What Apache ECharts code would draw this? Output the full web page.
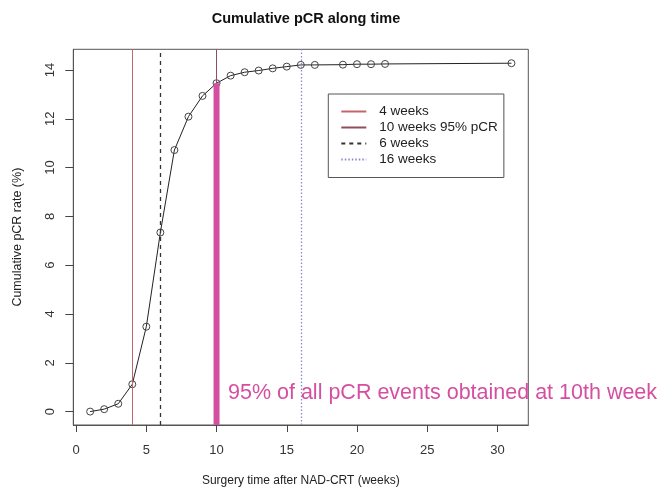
<!DOCTYPE html>
<html>
<head>
<meta charset="utf-8">
<script src="https://cdn.jsdelivr.net/npm/echarts@6/dist/echarts.min.js"></script>
<style>html,body{margin:0;padding:0;background:#fff;}#c{width:663px;height:490px;}</style>
</head>
<body>
<div id="c"></div>
<script>
// Data
const weeks = [1,2,3,4,5,6,7,8,9,10,11,12,13,14,15,16,17,19,20,21,22,31];
const cumPCR = [0,0.1,0.32,1.12,3.48,7.34,10.72,12.09,12.94,13.46,13.77,13.91,13.98,14.07,14.14,14.21,14.21,14.22,14.24,14.24,14.25,14.28];
const xTicks = [0,5,10,15,20,25,30];
const yTicks = [0,2,4,6,8,10,12,14];
const refLines = [
  {name:'4 weeks', week:4},
  {name:'10 weeks 95% pCR', week:10},
  {name:'6 weeks', week:6},
  {name:'16 weeks', week:16}
];
const pcr95Week = 10;
const pcr95Value = 13.46;
const annotation = '95% of all pCR events obtained at 10th week';
const titleText = 'Cumulative pCR along time';
const xName = 'Surgery time after NAD-CRT (weeks)';
const yName = 'Cumulative pCR rate (%)';

// R-style axis extension (4%)
const xMin = -0.2, xMax = 32.2;
const yMin = -0.55, yMax = 14.85;

const refStyles = {
  '4 weeks': {color:'#c4646e', type:'solid', width:1},
  '10 weeks 95% pCR': {color:'#8f4d5e', type:'solid', width:1},
  '6 weeks': {color:'#333333', type:[4,4], width:1.3},
  '16 weeks': {color:'#8a8ac8', type:[1.5,2], width:1.3}
};

const font = '"Liberation Sans", Arial, sans-serif';
const chart = echarts.init(document.getElementById('c'), null, {renderer:'canvas'});

const series = [];
refLines.forEach(r => {
  const st = refStyles[r.name];
  series.push({
    name: r.name,
    type: 'line',
    data: [],
    symbol: 'none',
    lineStyle: {color: st.color, type: st.type, width: st.width},
    itemStyle: {color: st.color},
    z: 2,
    markLine: {
      silent: true,
      symbol: 'none',
      label: {show: false},
      lineStyle: {color: st.color, type: st.type, width: st.width},
      data: [{xAxis: r.week}],
      animation: false
    }
  });
});
series.push({
  name: 'curve',
  type: 'line',
  data: weeks.map((w,i)=>[w, cumPCR[i]]),
  symbol: 'circle',
  symbolSize: 7,
  showSymbol: true,
  lineStyle: {color:'#222', width:1},
  itemStyle: {color:'rgba(0,0,0,0)', borderWidth:1, borderColor:'#444'},
  z: 3
});
series.push({
  name: 'pcr95',
  type: 'line',
  data: [[pcr95Week, yMin],[pcr95Week, pcr95Value]],
  symbol: 'none',
  lineStyle: {color:'#d54fa1', width:6, cap:'butt'},
  z: 6
});

chart.setOption({
  animation: false,
  backgroundColor: '#fff',
  title: {
    text: titleText,
    left: 301, top: 6, textAlign: 'center',
    textStyle: {fontFamily: font, fontSize: 14.5, fontWeight: 'bold', color: '#111'}
  },
  grid: {
    left: 73.3, top: 49.3, right: 663-528.3, bottom: 490-425,
    outerBoundsMode: 'none',
    containLabel: false,
    show: true, borderColor: '#555', borderWidth: 1, backgroundColor: 'transparent'
  },
  legend: {
    data: refLines.map(r=>r.name),
    orient: 'vertical',
    left: 328.3, top: 94,
    padding: [9.5, 6, 10, 12],
    itemGap: 0,
    itemWidth: 25, itemHeight: 14,
    itemStyle: {opacity: 0},
    lineStyle: {opacity: 1},
    borderColor: '#555', borderWidth: 1,
    textStyle: {fontFamily: font, fontSize: 13.5, color: '#222', lineHeight: 16, padding: [0,0,0,8]},
    selectedMode: false
  },
  xAxis: {
    type: 'value', min: xMin, max: xMax,
    name: xName, nameLocation: 'middle', nameGap: 50,
    nameTextStyle: {fontFamily: font, fontSize: 12, color: '#222'},
    axisLine: {show: true, onZero: false, lineStyle: {color: '#555', width: 1}},
    axisTick: {show: true, length: 7, customValues: xTicks, lineStyle: {color:'#444'}},
    axisLabel: {customValues: xTicks, margin: 19, fontFamily: font, fontSize: 13, color: '#333'},
    splitLine: {show: false}
  },
  yAxis: {
    type: 'value', min: yMin, max: yMax,
    name: yName, nameLocation: 'middle', nameGap: 49, nameRotate: 90,
    nameTextStyle: {fontFamily: font, fontSize: 12.5, color: '#222'},
    axisLine: {show: true, onZero: false, lineStyle: {color: '#555', width: 1}},
    axisTick: {show: true, length: 8, customValues: yTicks, lineStyle: {color:'#444'}},
    axisLabel: {customValues: yTicks, rotate: 90, margin: 16.5, fontFamily: font, fontSize: 13, color: '#333'},
    splitLine: {show: false}
  },
  graphic: [{
    type: 'text',
    left: 228, top: 382,
    style: {text: annotation, fontFamily: font, fontSize: 21.5, fill: '#d54fa1'},
    z: 10
  }],
  series: series
});
</script>
</body>
</html>
